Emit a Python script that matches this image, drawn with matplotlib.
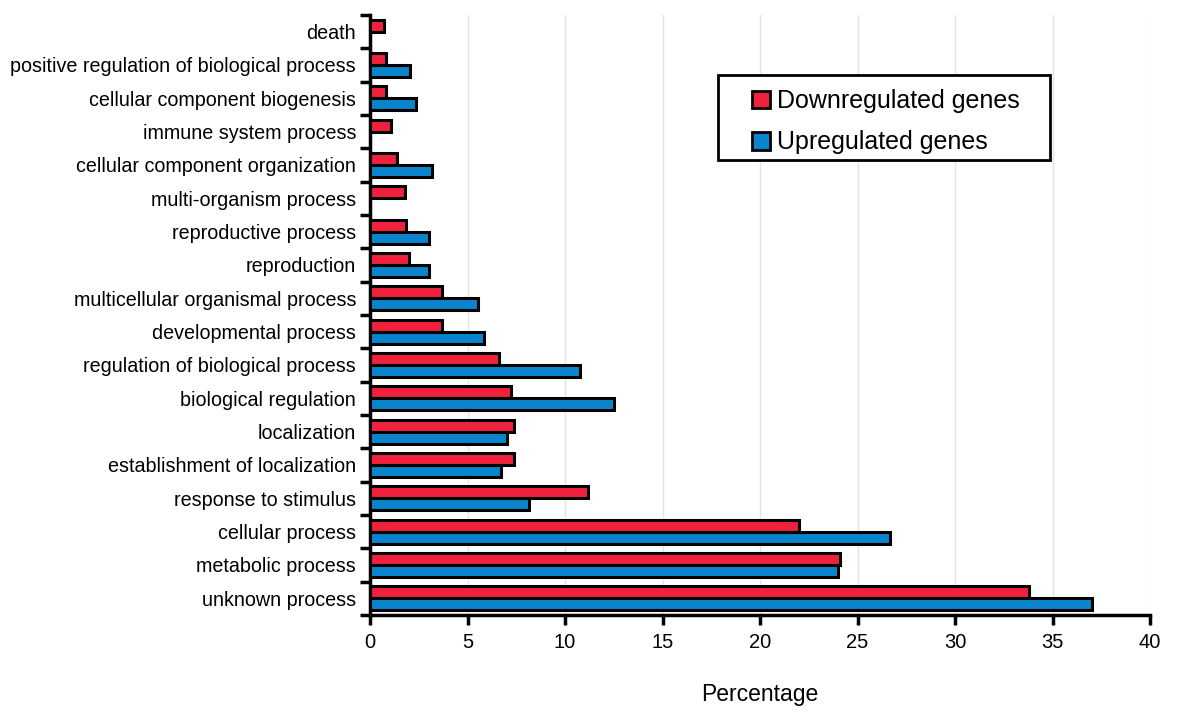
import matplotlib
matplotlib.use("Agg")
import matplotlib.pyplot as plt
from matplotlib.patches import Patch, Rectangle
import numpy as np

plt.rcParams['font.family'] = ['Liberation Sans', 'DejaVu Sans']

categories = [
    "death",
    "positive regulation of biological process",
    "cellular component biogenesis",
    "immune system process",
    "cellular component organization",
    "multi-organism process",
    "reproductive process",
    "reproduction",
    "multicellular organismal process",
    "developmental process",
    "regulation of biological process",
    "biological regulation",
    "localization",
    "establishment of localization",
    "response to stimulus",
    "cellular process",
    "metabolic process",
    "unknown process",
]
down = [0.7, 0.8, 0.8, 1.1, 1.4, 1.8, 1.85, 2.0, 3.7, 3.7, 6.6, 7.25, 7.4, 7.4, 11.2, 22.0, 24.1, 33.8]
up = [0, 2.05, 2.35, 0, 3.2, 0, 3.0, 3.0, 5.55, 5.85, 10.75, 12.5, 7.0, 6.7, 8.15, 26.65, 24.0, 37.05]
xticks = [0, 5, 10, 15, 20, 25, 30, 35, 40]

red = "#f0213c"
blue = "#0a84cc"

W, H = 1200, 713
fig = plt.figure(figsize=(12, 7.13), dpi=100)
ax = fig.add_axes([370/W, 1 - 615/H, 780/W, 600/H])

y = np.arange(len(categories))
h = 0.36
ax.barh(y - h/2, down, height=h, color=red, edgecolor="black", linewidth=2.2, zorder=3,
        label="Downregulated genes")
up_arr = np.array(up, dtype=float)
mask = up_arr > 0
ax.barh(y[mask] + h/2, up_arr[mask], height=h, color=blue, edgecolor="black", linewidth=2.2,
        zorder=3, label="Upregulated genes")

ax.set_xlim(0, 40)
ax.set_ylim(len(categories) - 0.5, -0.5)
ax.set_xticks(xticks)
ax.set_xticklabels([str(t) for t in xticks], fontsize=14.5)
ax.set_yticks(y)
ax.set_yticklabels(categories, fontsize=14.2)
ax.tick_params(axis='y', which='major', length=0, pad=10)
ax.set_yticks(np.arange(-0.5, len(categories) + 0.5, 1), minor=True)
ax.tick_params(axis='y', which='minor', length=7, width=2.5, direction='out')
ax.tick_params(axis='x', which='major', length=7, width=2.5, direction='out', pad=6)

for s in ["top", "right"]:
    ax.spines[s].set_visible(False)
for s in ["left", "bottom"]:
    ax.spines[s].set_linewidth(2.5)

ax.grid(axis='x', color="#e4e4e4", linewidth=1, zorder=0)
ax.set_axisbelow(True)

ax.set_xlabel("Percentage", fontsize=16.5, labelpad=22)

# legend frame
fig.patches.append(Rectangle((718/W, 1 - 160/H), (1050-718)/W, (160-75)/H,
                             transform=fig.transFigure, facecolor="white",
                             edgecolor="black", linewidth=2, zorder=5))

handles = [Patch(facecolor=red, edgecolor="black", linewidth=2),
           Patch(facecolor=blue, edgecolor="black", linewidth=2)]
leg = fig.legend(handles, ["Downregulated genes", "Upregulated genes"],
                 loc="upper left", bbox_to_anchor=(752/W, 1 - 89/H),
                 bbox_transform=fig.transFigure,
                 fontsize=18, frameon=False,
                 handlelength=0.7, handleheight=0.7, handletextpad=0.3,
                 borderpad=0, labelspacing=0.7, borderaxespad=0)
leg.set_zorder(6)

fig.savefig("out.png", dpi=100, facecolor="white")
